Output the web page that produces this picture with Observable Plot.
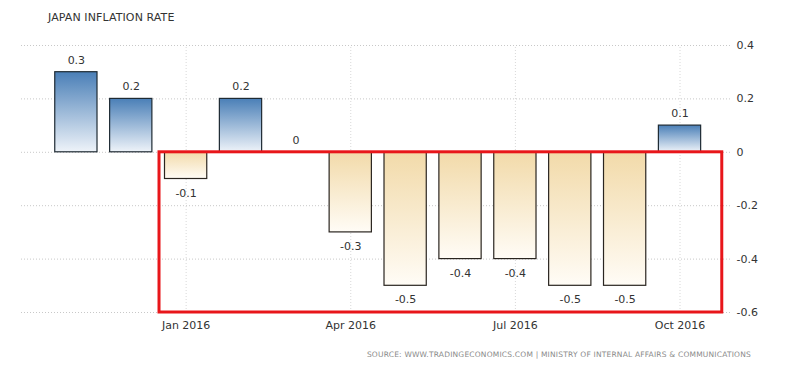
<!DOCTYPE html>
<html>
<head>
<meta charset="utf-8">
<script src="https://cdn.jsdelivr.net/npm/d3@7"></script>
<script src="https://cdn.jsdelivr.net/npm/@observablehq/plot@0.6"></script>
<style>
  html, body { margin: 0; padding: 0; background: #fff; }
  body { width: 800px; height: 373px; position: relative; overflow: hidden; font-family: "DejaVu Sans", sans-serif; }
  #title { position: absolute; left: 48px; top: 11px; font-size: 11px; color: #333; letter-spacing: 0.1px; }
  #chart { position: absolute; left: 0; top: 30px; }
  #source { position: absolute; right: 49px; top: 350px; font-size: 7.5px; color: #8a8a8a; letter-spacing: 0.2px; }
</style>
</head>
<body>
<div id="title">JAPAN INFLATION RATE</div>
<div id="chart"></div>
<div id="source">SOURCE: WWW.TRADINGECONOMICS.COM | MINISTRY OF INTERNAL AFFAIRS &amp; COMMUNICATIONS</div>
<script>
// Data
const months = ["Nov 2015","Dec 2015","Jan 2016","Feb 2016","Mar 2016","Apr 2016","May 2016","Jun 2016","Jul 2016","Aug 2016","Sep 2016","Oct 2016"];
const values = [0.3, 0.2, -0.1, 0.2, 0, -0.3, -0.5, -0.4, -0.4, -0.5, -0.5, 0.1];
const valueLabels = ["0.3","0.2","-0.1","0.2","0","-0.3","-0.5","-0.4","-0.4","-0.5","-0.5","0.1"];
const xTickMonths = ["Jan 2016","Apr 2016","Jul 2016","Oct 2016"];
const yTicks = [0.4, 0.2, 0, -0.2, -0.4, -0.6];
const yTickLabels = ["0.4","0.2","0","-0.2","-0.4","-0.6"];
// highlight box (in month-index / value units)
const highlightX = [1.515, 11.77];
const highlightY = [0, -0.6];

const data = months.map((m, i) => ({i, month: m, value: values[i], label: valueLabels[i]}));
const xTickIdx = xTickMonths.map(m => months.indexOf(m));
const half = 0.385;
const xMax = 11.92;

const plot = Plot.plot({
  width: 800,
  height: 310,
  marginLeft: 21,
  marginRight: 70,
  marginTop: 15,
  marginBottom: 28,
  style: {fontFamily: "DejaVu Sans, sans-serif", fontSize: "11px", color: "#333", background: "#fff"},
  x: {domain: [-1, xMax], axis: null},
  y: {domain: [-0.6, 0.4], axis: null},
  marks: [
    Plot.ruleY(yTicks, {stroke: "#c8c8c8", strokeDasharray: "1,2", strokeWidth: 1}),
    Plot.ruleX(xTickIdx, {y1: -0.6, y2: 0.4, stroke: "#d8d8d8", strokeDasharray: "1,2", strokeWidth: 1}),
    Plot.rectY(data.filter(d => d.value > 0), {
      x1: d => d.i - half, x2: d => d.i + half, y1: 0, y2: "value",
      fill: "url(#gradPos)", stroke: "#1e2a33", strokeWidth: 1.2
    }),
    Plot.rectY(data.filter(d => d.value < 0), {
      x1: d => d.i - half, x2: d => d.i + half, y1: 0, y2: "value",
      fill: "url(#gradNeg)", stroke: "#2a2520", strokeWidth: 1.2
    }),
    Plot.text(data.filter(d => d.value >= 0), {x: "i", y: "value", text: "label", dy: -12, fill: "#333", fontSize: 11}),
    Plot.text(data.filter(d => d.value < 0), {x: "i", y: "value", text: "label", dy: 14, fill: "#333", fontSize: 11}),
    Plot.rect([{}], {x1: highlightX[0], x2: highlightX[1], y1: highlightY[0], y2: highlightY[1], fill: "none", stroke: "#e8161a", strokeWidth: 3}),
    Plot.text(xTickIdx, {x: d => d, y: -0.6, text: d => months[d], dy: 13, fill: "#333", fontSize: 11}),
    Plot.text(yTicks, {x: xMax, y: d => d, text: (d, i) => yTickLabels[i], dx: 6, textAnchor: "start", fill: "#333", fontSize: 11})
  ]
});

const ns = "http://www.w3.org/2000/svg";
const defs = document.createElementNS(ns, "defs");
defs.innerHTML = `
  <linearGradient id="gradPos" x1="0" y1="0" x2="0" y2="1">
    <stop offset="0" stop-color="#4a7fb7"/>
    <stop offset="1" stop-color="#eef3f9"/>
  </linearGradient>
  <linearGradient id="gradNeg" x1="0" y1="0" x2="0" y2="1">
    <stop offset="0" stop-color="#f2daa9"/>
    <stop offset="1" stop-color="#fffcf6"/>
  </linearGradient>`;
plot.insertBefore(defs, plot.firstChild);
document.getElementById("chart").appendChild(plot);
</script>
</body>
</html>
